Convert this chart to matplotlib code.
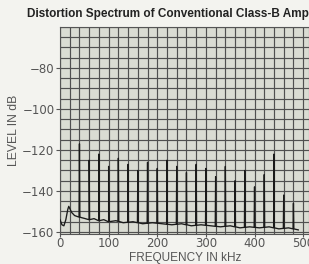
import matplotlib
matplotlib.use("Agg")
import matplotlib.pyplot as plt
import numpy as np

# Noise floor (kHz, dB)
floor_freq = [0, 4, 8, 12, 16, 18, 20, 24, 30, 36, 44, 52, 60, 70, 80, 90, 100, 115, 130,
              150, 170, 190, 210, 230, 250, 270, 290, 310, 330, 350, 370, 390, 410, 430,
              450, 470, 490]
floor_level = [-154, -156.5, -157, -154, -149, -147.5, -148.5, -150.5, -152, -152.5, -153,
               -153.5, -154, -153.5, -154.5, -154, -155, -154.5, -155.5, -155, -156, -155.5,
               -156, -156.5, -156, -157, -156.5, -157, -157.5, -157, -158, -157.5, -158,
               -157.5, -158.5, -158, -159]

# Harmonic spikes (kHz, dB)
harm_freq = [40, 60, 80, 100, 120, 140, 160, 180, 200, 220, 240, 260, 280, 300, 320, 340,
             360, 380, 400, 420, 440, 460, 480]
harm_level = [-117, -125, -122, -128, -124, -127, -130, -126, -129, -125, -128, -131, -127,
              -129, -133, -128, -135, -130, -138, -132, -122, -142, -146]

x_ticks = [0, 100, 200, 300, 400, 500]
y_ticks = [-80, -100, -120, -140, -160]

title = "Distortion Spectrum of Conventional Class-B Amp"
xlabel = "FREQUENCY IN kHz"
ylabel = "LEVEL IN dB"

W, H = 309, 264
fig = plt.figure(figsize=(W / 100, H / 100), dpi=100, facecolor="#f3f3ef")
ax = fig.add_axes([60 / W, 1 - 234 / H, (W - 60) / W, (234 - 27) / H])
ax.set_facecolor("#dadcd3")

# build trace
pts = sorted(zip(floor_freq, floor_level))
fx = [p[0] for p in pts]
fy = [p[1] for p in pts]
tx, ty = list(fx), list(fy)
for f, lv in zip(harm_freq, harm_level):
    base = float(np.interp(f, fx, fy))
    tx += [f - 0.8, f, f + 0.8]
    ty += [base, lv, base]
order = np.argsort(tx, kind="stable")
tx = np.array(tx)[order]
ty = np.array(ty)[order]

# grid
for gx in np.arange(0, 521, 20):
    ax.axvline(gx, color="#505050", lw=0.85, zorder=1)
for gy in np.arange(-160, -59, 5):
    ax.axhline(gy, color="#505050", lw=0.85, zorder=1)

ax.plot(tx, ty, color="#1a1a1a", lw=0.95, zorder=3)

ax.set_xlim(0, 512)
ax.set_ylim(-161, -60)
ax.set_xticks(x_ticks)
ax.set_yticks(y_ticks)
ax.set_xticklabels([str(v) for v in x_ticks])
ax.set_yticklabels(["\u2212" + str(abs(v)) for v in y_ticks])
ax.tick_params(axis="both", colors="#555555", labelsize=8.5, length=3, width=0.8, pad=1)
ax.tick_params(axis="x", length=2, pad=0.5)
for lab in ax.get_xticklabels() + ax.get_yticklabels():
    lab.set_family("DejaVu Sans")
for s in ax.spines.values():
    s.set_color("#555555")
    s.set_linewidth(0.8)

fig.text(27 / W, 1 - 14 / H, title, ha="left", va="center", fontsize=8.5,
         fontweight="bold", family="Liberation Sans", color="#222222")
fig.text(185 / W, 1 - 257.5 / H, xlabel, ha="center", va="center", fontsize=8.5,
         family="Liberation Sans", color="#555555")
fig.text(14 / W, 1 - 130 / H, ylabel, ha="center", va="center", rotation=90,
         fontsize=8.7, family="Liberation Sans", color="#555555")

fig.savefig("out.png", dpi=100, facecolor=fig.get_facecolor())
